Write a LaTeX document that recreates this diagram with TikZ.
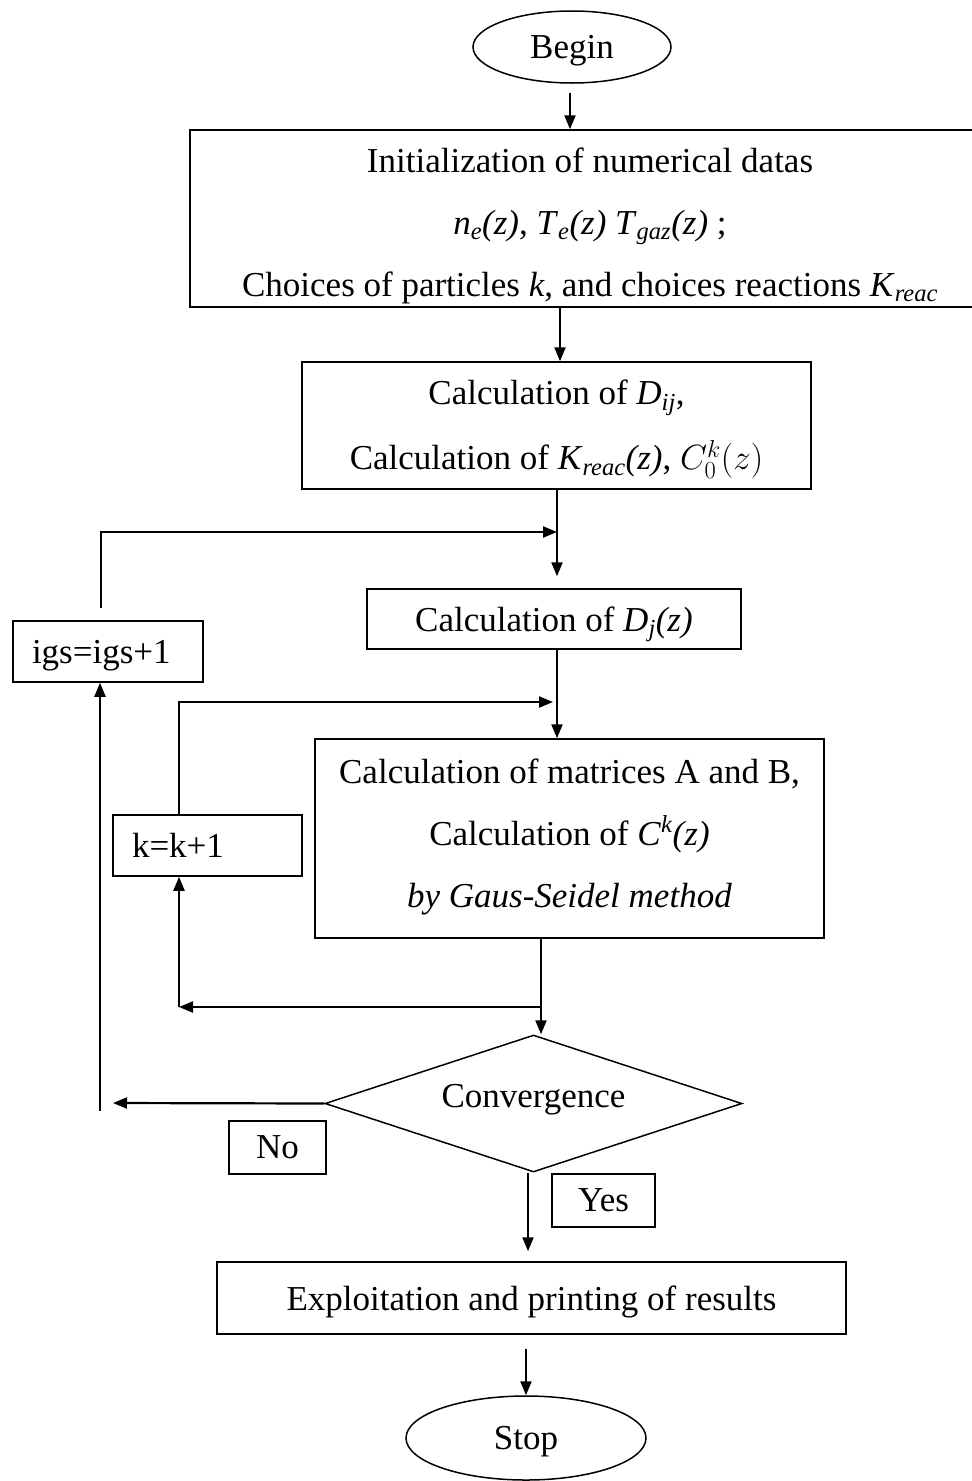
\documentclass[tikz,border=0pt]{standalone}
\usepackage{fix-cm}
\usepackage{fontspec}
\setmainfont{Liberation Serif}
\usetikzlibrary{shapes.geometric,arrows.meta}
\newcommand{\isub}[1]{\textsubscript{\textit{#1}}}
\begin{document}
\begin{tikzpicture}[x=1pt,y=-1pt,
  fnt/.style={font=\fontsize{35}{62}\selectfont},
  box/.style={draw, line width=1.5pt, inner sep=0pt, align=center, text depth=0pt, fnt},
  lbox/.style={box, align=left, inner xsep=19pt},
  term/.style={draw, ellipse, line width=1.5pt, inner sep=0pt, text depth=0pt, fnt},
  dec/.style={draw, diamond, line width=1.5pt, inner sep=0pt, fnt},
  txt/.style={inner sep=0pt, align=center, fnt},
  arr/.style={-{Triangle[length=14pt,width=11pt]}, line width=2.2pt}]
\clip (0,0) rectangle (972,1481);
\fill[white] (0,0) rectangle (972,1481);

\node[term, minimum width=198pt, minimum height=72pt] (begin) at (572,47) {Begin};

\node[box, minimum width=800pt, minimum height=177pt] (init) at (590,218.5) {};
\node[txt] (inittext) at (590,226) {Initialization of numerical datas\\
  \textit{n}\isub{e}\textit{(z)}, \textit{T}\isub{e}\textit{(z) T}\isub{gaz}\textit{(z)} ;\\
  Choices of particles \textit{k}, and choices reactions \textit{K}\isub{reac}};

\node[box, minimum width=509pt, minimum height=127pt] (calc1) at (556.5,425.5) {};
\node[txt, font=\fontsize{35}{65}\selectfont] (calc1text) at (556.5,429.5)
  {Calculation of \textit{D}\isub{ij},\\ Calculation of \textit{K}\isub{reac}\textit{(z)}, $C_0^k(z)$};

\node[box, minimum width=374pt, minimum height=60pt] (calc2) at (554,619)
  {Calculation of \textit{D}\isub{j}\textit{(z)}};

\node[box, minimum width=509pt, minimum height=199pt] (calc3) at (569.5,838.5) {};
\node[txt] (calc3text) at (569.5,836.5)
  {Calculation of matrices A and B,\\ Calculation of \textit{C}\textsuperscript{\textit{k}}\textit{(z)}\\ \textit{by Gaus-Seidel method}};

\node[lbox, text width=152pt, minimum height=61pt] (igs) at (108,651.5) {igs=igs+1};
\node[lbox, text width=151pt, minimum height=61pt] (kinc) at (207.5,845.5) {k=k+1};

\node[dec, minimum width=417pt, minimum height=137pt] (conv) at (533.5,1103.5) {};
\node[txt] (convtext) at (533.5,1100) {Convergence};

\node[box, minimum width=97pt, minimum height=53pt] (no) at (277.5,1147.5) {No};
\node[box, minimum width=103pt, minimum height=53pt] (yes) at (603.5,1200.5) {Yes};

\node[box, minimum width=629pt, minimum height=72pt] (expl) at (531.5,1298) {Exploitation and printing of results};
\node[term, minimum width=240pt, minimum height=84pt] (stop) at (526,1438) {Stop};

\coordinate (j1) at (557,532);
\coordinate (j2) at (553,702);
\coordinate (br) at (541,1007);
\coordinate (kc) at (179,1007);
\coordinate (noend) at (113,1103);
\coordinate (igsb) at (100,1111);

% main flow
\draw[arr, shorten <=9pt] ([xshift=-2pt]begin.south) -- ([xshift=-2pt]begin.south |- init.north);
\draw[arr] ([xshift=3.5pt]calc1.north |- init.south) -- ([xshift=3.5pt]calc1.north);
\draw[arr, shorten >=12pt] ([xshift=3pt]calc2.north |- calc1.south) -- ([xshift=3pt]calc2.north);
\draw[arr] ([xshift=3pt]calc2.south) -- ([xshift=3pt]calc2.south |- calc3.north);
\draw[arr] ([xshift=-28.5pt]calc3.south) -- ([xshift=-28.5pt]calc3.south |- conv.north);
\draw[arr, shorten >=10pt] ([xshift=-5.5pt]conv.south) -- ([xshift=-5.5pt]conv.south |- expl.north);
\draw[arr, shorten <=14pt] (stop.north |- expl.south) -- (stop.north);

% igs loop
\draw[arr, shorten <=12pt] ([xshift=-7pt]igs.north) |- (j1);
\draw[arr] (conv.west) -- (noend);
\draw[arr] (igsb) -- (igsb |- igs.south);

% k loop
\draw[arr] ([xshift=-28.5pt]kinc.north) |- (j2);
\draw[arr] (br) -- (kc);
\draw[arr] (kc) -- (kc |- kinc.south);
\end{tikzpicture}
\end{document}
